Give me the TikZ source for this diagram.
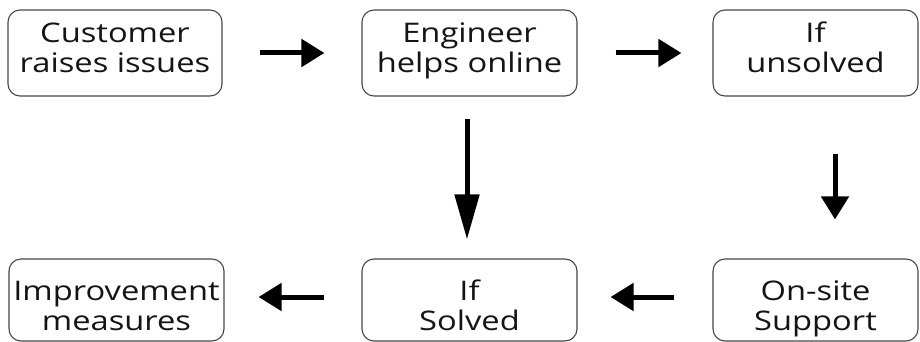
\documentclass[tikz,border=0pt]{standalone}
\usepackage{fontspec}
\setmainfont{Open Sans}[FakeStretch=1.21]
\usetikzlibrary{arrows.meta}
\newcommand{\twolinestop}[2]{\rule{0pt}{22pt}#1\\#2\rule[-12pt]{0pt}{12pt}}
\newcommand{\twolinesbot}[2]{\rule{0pt}{38pt}#1\\#2\rule[-8pt]{0pt}{8pt}}
\begin{document}
\begin{tikzpicture}[x=1pt,y=-1pt,
  box/.style={draw=black!72, line width=1.1pt, rounded corners=12pt, align=center,
    inner sep=0pt, font=\fontsize{27}{30}\selectfont, text=black!92},
  arr/.style={line width=5pt, -{Triangle[length=23pt,width=27pt]}},
  varr/.style={line width=5pt, -{Triangle[length=45pt,width=24pt]}},
]
\useasboundingbox (0,0) rectangle (920,342);
\fill[white] (0,0) rectangle (920,342);
\node[box, minimum width=214pt, minimum height=86pt] (n1) at (115,53) {\twolinestop{Customer}{raises issues}};
\node[box, minimum width=215pt, minimum height=86pt] (n2) at (469.5,53) {\twolinestop{Engineer}{helps online}};
\node[box, minimum width=205pt, minimum height=86pt] (n3) at (815.5,53) {\twolinestop{If}{unsolved}};
\node[box, minimum width=215pt, minimum height=82pt] (n4) at (116.5,300) {\twolinesbot{Improvement}{measures}};
\node[box, minimum width=215pt, minimum height=82pt] (n5) at (469.5,300) {\twolinesbot{If}{Solved}};
\node[box, minimum width=205pt, minimum height=82pt] (n6) at (815.5,300) {\twolinesbot{On-site}{Support}};
\draw[arr, shorten <=37pt, shorten >=37pt] (n1.east) -- (n2.west);
\draw[arr, shorten <=38pt, shorten >=31pt] (n2.east) -- (n3.west);
\draw[varr, shorten <=22pt, shorten >=19pt] ([xshift=-2.5pt]n2.south) -- ([xshift=-2.5pt]n5.north);
\draw[arr, shorten <=57pt, shorten >=39pt] ([xshift=19.5pt]n3.south) -- ([xshift=19.5pt]n6.north);
\draw[arr, shorten <=38pt, shorten >=33pt] ([yshift=3pt]n6.west) -- ([yshift=3pt]n5.east);
\draw[arr, shorten <=37pt, shorten >=34pt] ([yshift=3pt]n5.west) -- ([yshift=3pt]n4.east);
\end{tikzpicture}
\end{document}
